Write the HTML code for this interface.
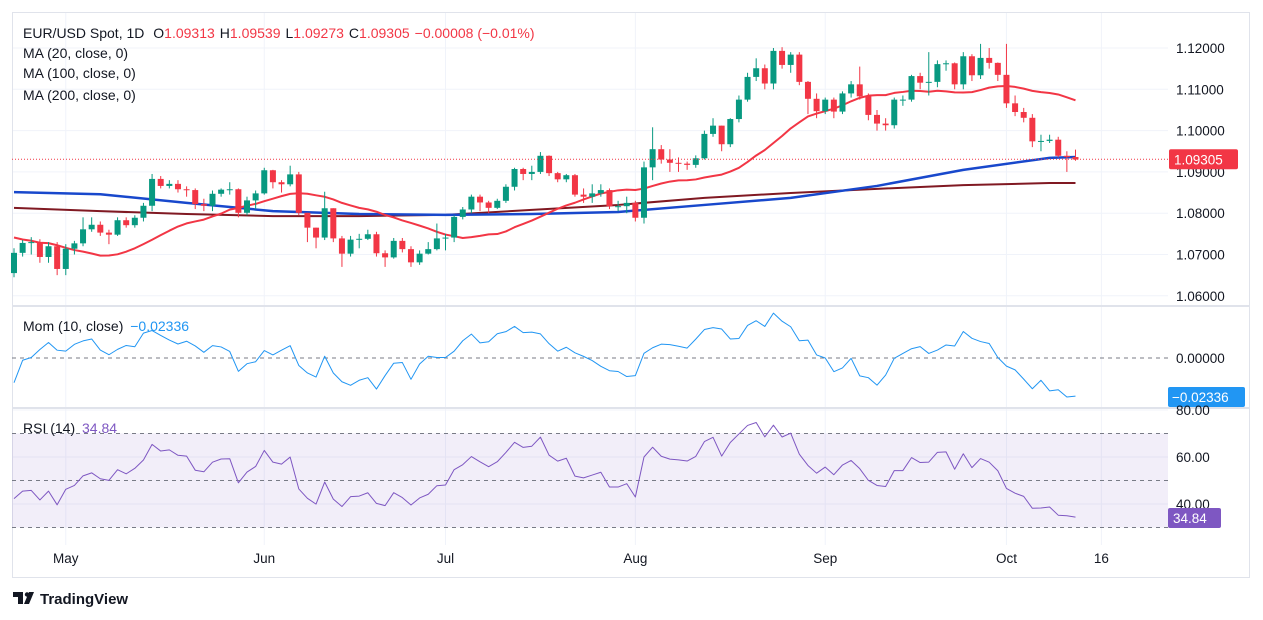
<!DOCTYPE html>
<html><head><meta charset="utf-8"><style>
body{margin:0;background:#fff;width:1263px;height:620px;overflow:hidden;font-family:"Liberation Sans",sans-serif;}
svg{position:absolute;left:0;top:0}
text{font-family:"Liberation Sans",sans-serif}
</style></head><body>
<svg id="c" width="1263" height="620"></svg>
<script>
const priorCloses=[1.0826,1.0790,1.0790,1.0740,1.0768,1.0836,1.0837,1.0838,1.0860,1.0856,1.0742,1.0727,1.0642,1.0625,1.0617,1.0672,1.0643,1.0656,1.0655];
const closes=[1.0704,1.0728,1.0730,1.0694,1.0720,1.0665,1.0714,1.0727,1.0761,1.0772,1.0753,1.0748,1.0783,1.0771,1.0789,1.0818,1.0883,1.0866,1.0871,1.0858,1.0856,1.0822,1.0818,1.0847,1.0857,1.0858,1.0801,1.0831,1.0848,1.0904,1.0875,1.0870,1.0894,1.0801,1.0765,1.0741,1.0812,1.0739,1.0702,1.0736,1.0738,1.0749,1.0703,1.0693,1.0733,1.0713,1.0681,1.0702,1.0713,1.0739,1.0741,1.0791,1.0809,1.0840,1.0826,1.0813,1.0830,1.0864,1.0907,1.0895,1.0900,1.0939,1.0897,1.0882,1.0892,1.0845,1.0840,1.0848,1.0856,1.0817,1.0817,1.0825,1.0789,1.0911,1.0955,1.0930,1.0922,1.0920,1.0917,1.0933,1.0992,1.1012,1.0967,1.1028,1.1075,1.1130,1.1151,1.1114,1.1193,1.1159,1.1184,1.1118,1.1077,1.1047,1.1075,1.1046,1.1090,1.1112,1.1083,1.1038,1.1017,1.1013,1.1075,1.1075,1.1132,1.1116,1.1118,1.1161,1.1163,1.1112,1.1180,1.1134,1.1176,1.1164,1.1135,1.1066,1.1045,1.1031,1.0974,1.0975,1.0978,1.0939,1.0936,1.0930];
const highs=[1.0715,1.0735,1.0742,1.0737,1.0730,1.0730,1.0725,1.0733,1.0790,1.0790,1.0780,1.0760,1.0790,1.0790,1.0795,1.0825,1.0895,1.0890,1.0880,1.0880,1.0865,1.0860,1.0835,1.0855,1.0860,1.0875,1.0860,1.0840,1.0855,1.0910,1.0905,1.0880,1.0915,1.0900,1.0790,1.0765,1.0852,1.0810,1.0745,1.0745,1.0750,1.0760,1.0755,1.0710,1.0740,1.0740,1.0720,1.0710,1.0730,1.0775,1.0750,1.0795,1.0815,1.0845,1.0845,1.0830,1.0835,1.0870,1.0910,1.0910,1.0915,1.0948,1.0940,1.0900,1.0895,1.0895,1.0860,1.0870,1.0870,1.0860,1.0830,1.0840,1.0830,1.0925,1.1008,1.0965,1.0955,1.0935,1.0925,1.0940,1.1000,1.1030,1.1012,1.1030,1.1085,1.1140,1.1175,1.1160,1.1200,1.1202,1.1190,1.1190,1.1120,1.1090,1.1080,1.1080,1.1095,1.1120,1.1155,1.1090,1.1050,1.1030,1.1080,1.1085,1.1135,1.1140,1.1190,1.1170,1.1170,1.1165,1.1190,1.1185,1.1210,1.1200,1.1165,1.1210,1.1085,1.1055,1.1040,1.0990,1.0990,1.0985,1.0950,1.0954];
const lows=[1.0645,1.0695,1.0700,1.0680,1.0680,1.0650,1.0650,1.0700,1.0720,1.0755,1.0745,1.0725,1.0745,1.0765,1.0765,1.0780,1.0805,1.0860,1.0860,1.0850,1.0840,1.0810,1.0805,1.0805,1.0840,1.0845,1.0790,1.0795,1.0810,1.0845,1.0860,1.0850,1.0865,1.0795,1.0730,1.0715,1.0735,1.0730,1.0670,1.0695,1.0715,1.0735,1.0695,1.0670,1.0690,1.0705,1.0670,1.0675,1.0700,1.0710,1.0710,1.0730,1.0785,1.0800,1.0805,1.0800,1.0810,1.0825,1.0855,1.0880,1.0880,1.0895,1.0890,1.0875,1.0875,1.0840,1.0825,1.0825,1.0840,1.0810,1.0805,1.0800,1.0780,1.0775,1.0880,1.0920,1.0900,1.0900,1.0905,1.0910,1.0930,1.0985,1.0950,1.0960,1.1020,1.1070,1.1120,1.1100,1.1100,1.1150,1.1140,1.1110,1.1040,1.1030,1.1040,1.1030,1.1040,1.1080,1.1075,1.1025,1.1000,1.1000,1.1005,1.1060,1.1070,1.1100,1.1085,1.1105,1.1145,1.1100,1.1100,1.1120,1.1125,1.1150,1.1120,1.1055,1.1035,1.1020,1.0960,1.0950,1.0970,1.0935,1.0900,1.0927];
const ma100Idx=[0,10,20,30,40,50,60,70,80,90,100,110,120,123];
const ma100Vals=[1.0851,1.0846,1.0825,1.0805,1.0798,1.0796,1.0798,1.0803,1.0820,1.0837,1.0866,1.0905,1.0934,1.0936];
const ma200Vals=[1.0813,1.0805,1.0798,1.0793,1.0793,1.0796,1.0808,1.0820,1.0837,1.0849,1.0859,1.0868,1.0873,1.0873];
const priceTicks=[1.12,1.11,1.10,1.09,1.08,1.07,1.06];
const rsiTicks=[80,60,40];
const monthLabels=["May","Jun","Jul","Aug","Sep","Oct","16"];
const monthIdx=[6,29,50,72,94,115,126];

const NS="http://www.w3.org/2000/svg",svg=document.getElementById('c');
function el(t,a,p){const e=document.createElementNS(NS,t);for(const k in a)e.setAttribute(k,a[k]);(p||svg).appendChild(e);return e;}
const X=i=>14+i*8.63;
const Y=p=>48+(1.12-p)*4130;
const YM=m=>358-m*1627;
const YR=r=>410+(80-r)*2.35;
const PR=1168;
// grid
monthIdx.forEach(i=>el('line',{x1:X(i),x2:X(i),y1:13,y2:545,stroke:'#f0f3fa'}));
priceTicks.forEach(p=>el('line',{x1:12,x2:PR,y1:Y(p),y2:Y(p),stroke:'#f0f3fa'}));
rsiTicks.forEach(v=>el('line',{x1:12,x2:PR,y1:YR(v),y2:YR(v),stroke:'#f0f3fa'}));
// frame
let f=el('rect',{x:12.5,y:12.5,width:1237,height:565,fill:'none',stroke:'#e0e3eb'});

el('line',{x1:12,x2:1250,y1:306,y2:306,stroke:'#e0e3eb','stroke-width':2});
el('line',{x1:12,x2:1250,y1:408,y2:408,stroke:'#e0e3eb','stroke-width':2});
// price axis
priceTicks.forEach(p=>{const t=el('text',{x:1176,y:Y(p)+5,'font-size':13.5,fill:'#131722'});t.textContent=p.toFixed(5);
});
// MAs
const all=priorCloses.concat(closes),off=priorCloses.length;
let ma20=[];closes.forEach((c,i)=>{let s=0;for(let k=0;k<20;k++)s+=all[off+i-k];ma20.push(s/20);});
function line(pts,col,w,name){const p=el('polyline',{points:pts.join(' '),fill:'none',stroke:col,'stroke-width':w,'stroke-linejoin':'round'});}
line(ma100Idx.map((i,k)=>X(i)+','+Y(ma200Vals[k])),'#801922',2,'ma200-line');
line(ma100Idx.map((i,k)=>X(i)+','+Y(ma100Vals[k])),'#1848cc',2.5,'ma100-line');
line(ma20.map((v,i)=>X(i)+','+Y(v)),'#f23645',2,'ma20-line');
// candles
closes.forEach((c,i)=>{const o=all[off+i-1];const up=c>=o;const col=up?'#089981':'#f23645';
const h=Math.max(highs[i],o,c),l=Math.min(lows[i],o,c);
const g=el('g',{});
el('line',{x1:X(i),x2:X(i),y1:Y(h),y2:Y(l),stroke:col,'stroke-width':1},g);
const t=Y(Math.max(o,c)),b=Y(Math.min(o,c));
el('rect',{x:X(i)-3,y:t,width:6,height:Math.max(1,b-t),fill:col},g);});
// last price line
const lastY=Y(1.09305);
el('line',{x1:12,x2:PR,y1:lastY,y2:lastY,stroke:'#f23645','stroke-dasharray':'1 2'});
let lb=el('rect',{x:1169,y:lastY-10,width:69,height:20,rx:2,fill:'#f23645'});
let lt=el('text',{x:1174,y:lastY+5,'font-size':13.5,fill:'#fff'});lt.textContent='1.09305';
// momentum
el('line',{x1:12,x2:PR,y1:358,y2:358,stroke:'#787b86','stroke-dasharray':'4 4'});
const mom=closes.map((c,i)=>c-all[off+i-10]);
line(mom.map((m,i)=>X(i)+','+YM(m)),'#2196f3',1,'momentum-line');
let mt=el('text',{x:1176,y:363,'font-size':13.5,fill:'#131722'});mt.textContent='0.00000';
el('rect',{x:1168,y:387,width:77,height:20,rx:2,fill:'#2196f3'});
let ml=el('text',{x:1172,y:402,'font-size':13.5,fill:'#fff'});ml.textContent='−0.02336';

// RSI
el('rect',{x:12,y:YR(70),width:PR-12,height:YR(30)-YR(70),fill:'rgba(126,87,194,0.1)'});
[70,50,30].forEach(v=>el('line',{x1:12,x2:PR,y1:YR(v),y2:YR(v),stroke:'#787b86','stroke-dasharray':'4 4'}));
let ag=0,al=0;for(let k=1;k<=14;k++){const d=all[k]-all[k-1];if(d>0)ag+=d;else al-=d;}ag/=14;al/=14;
for(let k=15;k<off;k++){const d=all[k]-all[k-1];ag=(ag*13+Math.max(d,0))/14;al=(al*13+Math.max(-d,0))/14;}
const rsi=[];for(let i=0;i<closes.length;i++){const k=off+i,d=all[k]-all[k-1];ag=(ag*13+Math.max(d,0))/14;al=(al*13+Math.max(-d,0))/14;rsi.push(100-100/(1+ag/al));}
line(rsi.map((r,i)=>X(i)+','+YR(r)),'#7e57c2',1,'rsi-line');
rsiTicks.forEach(v=>{const t=el('text',{x:1176,y:YR(v)+5,'font-size':13.5,fill:'#131722'});t.textContent=v.toFixed(2);});
el('rect',{x:1168,y:508,width:53,height:20,rx:2,fill:'#7e57c2'});
let rl=el('text',{x:1173,y:523,'font-size':13.5,fill:'#fff'});rl.textContent='34.84';

// time axis
monthLabels.forEach((m,k)=>{const t=el('text',{x:X(monthIdx[k]),y:563,'font-size':13.5,fill:'#131722','text-anchor':'middle'});t.textContent=m;
});
// legends
function txt(x,y,s,col,name){const t=el('text',{x:x,y:y,'font-size':14,fill:col});t.innerHTML=s;return t;}
txt(23,38,'EUR/USD Spot, 1D <tspan dx="5">O</tspan><tspan fill="#f23645">1.09313</tspan><tspan dx="5">H</tspan><tspan fill="#f23645">1.09539</tspan><tspan dx="5">L</tspan><tspan fill="#f23645">1.09273</tspan><tspan dx="5">C</tspan><tspan fill="#f23645">1.09305</tspan><tspan dx="5" fill="#f23645">−0.00008 (−0.01%)</tspan>','#131722','main-legend');
txt(23,58,'MA (20, close, 0)','#131722','ma20-legend');
txt(23,78,'MA (100, close, 0)','#131722','ma100-legend');
txt(23,100,'MA (200, close, 0)','#131722','ma200-legend');
txt(23,331,'Mom (10, close) <tspan dx="3" fill="#2196f3">−0.02336</tspan>','#131722','momentum-legend');
txt(23,433,'RSI (14) <tspan dx="3" fill="#7e57c2">34.84</tspan>','#131722','rsi-legend');
// logo
let lg=el('g',{});
el('path',{d:'M13 592h10v12h-5v-7h-5z M24 604l5-12h5l-5 12z',fill:'#131722'},lg);
el('circle',{cx:27,cy:594.5,r:2.2,fill:'#131722'},lg);
const lt2=el('text',{x:40,y:604,'font-size':15,'font-weight':'bold',fill:'#131722'},lg);lt2.textContent='TradingView';
</script>
</body></html>
